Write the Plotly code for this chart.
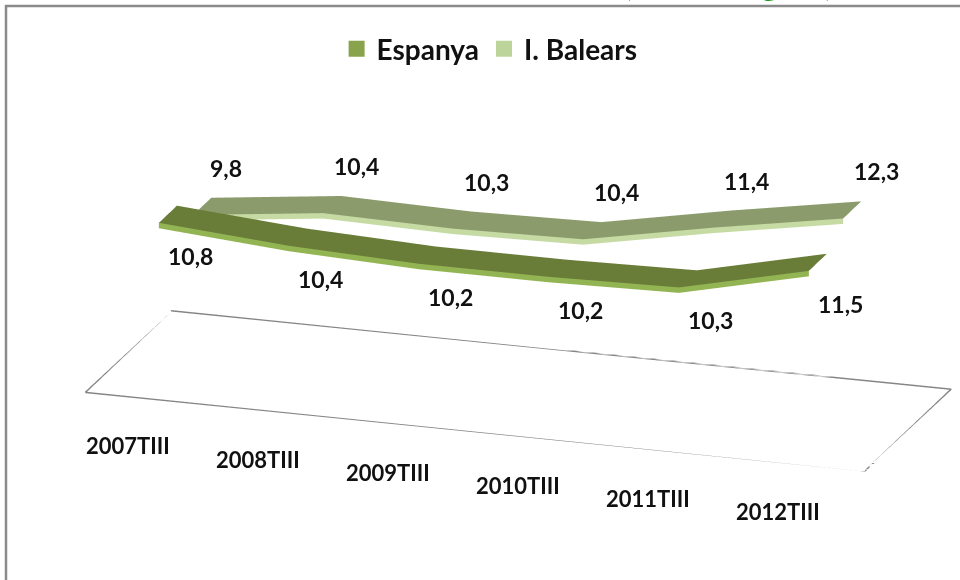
import numpy as np
import plotly.graph_objects as go

categories = ["2007TIII", "2008TIII", "2009TIII", "2010TIII", "2011TIII", "2012TIII"]
espanya = [10.8, 10.4, 10.2, 10.2, 10.3, 11.5]
balears = [9.8, 10.4, 10.3, 10.4, 11.4, 12.3]
series_names = ["Espanya", "I. Balears"]
value_labels_es = ["10,8", "10,4", "10,2", "10,2", "10,3", "11,5"]
value_labels_ib = ["9,8", "10,4", "10,3", "10,4", "11,4", "12,3"]

# floor extents (category and series depth) and value axis minimum
FX = [-0.5, 5.5]
FY = [0.0, 2.0]
ZR = [4.0, 13.0]
PAD = 0.05
XR = [FX[0] - PAD, FX[1] + PAD]
YR = [FY[0] - PAD, FY[1] + PAD]

top_colors = ["#6a7d38", "#8c9b6c"]
front_colors = ["#93b453", "#c5dba3"]
legend_colors = ["#88a34c", "#bcd49a"]
depths = [(0.20, 0.62), (1.00, 1.42)]
thick = 0.22

xs = list(range(len(categories)))
fig = go.Figure()

flat = dict(ambient=1.0, diffuse=0.0, specular=0.0, roughness=1.0, fresnel=0.0)
for k, vals in enumerate([espanya, balears]):
    y0, y1 = depths[k]
    z = np.array([vals, vals], dtype=float)
    c = top_colors[k]
    fig.add_trace(go.Surface(
        x=xs, y=[y0, y1], z=z,
        surfacecolor=np.zeros_like(z), colorscale=[[0, c], [1, c]], cmin=0, cmax=1,
        showscale=False, hoverinfo="skip", lighting=flat,
    ))
    fc = front_colors[k]
    fx = np.array([xs, xs], dtype=float)
    fy = np.full_like(fx, y0)
    fz = np.array([vals, [v - thick for v in vals]], dtype=float)
    fig.add_trace(go.Surface(
        x=fx, y=fy, z=fz,
        surfacecolor=np.zeros_like(fz), colorscale=[[0, fc], [1, fc]], cmin=0, cmax=1,
        showscale=False, hoverinfo="skip", lighting=flat,
    ))

# floor outline
fig.add_trace(go.Scatter3d(
    x=[FX[0], FX[1], FX[1], FX[0], FX[0]],
    y=[FY[0], FY[0], FY[1], FY[1], FY[0]],
    z=[ZR[0]] * 5,
    mode="lines", line=dict(color="#858585", width=3),
    hoverinfo="skip", showlegend=False,
))

# legend entries
for k, name in enumerate(series_names):
    fig.add_trace(go.Scatter3d(
        x=[None], y=[None], z=[None], mode="markers", name=name,
        marker=dict(symbol="square", size=22, color=legend_colors[k]),
        showlegend=True,
    ))

lab_font = dict(family="Lato", size=23, color="#111111", weight="bold")
cat_font = dict(family="Lato", size=22, color="#111111", weight="bold")
ann = []
for i, (v, t) in enumerate(zip(espanya, value_labels_es)):
    ann.append(dict(x=i, y=depths[0][0], z=v, text=t, showarrow=False,
                    xshift=32, yshift=-33, font=lab_font))
for i, (v, t) in enumerate(zip(balears, value_labels_ib)):
    ann.append(dict(x=i, y=depths[1][0], z=v, text=t, showarrow=False,
                    xshift=33, yshift=47, font=lab_font))
for i, t in enumerate(categories):
    ann.append(dict(x=i, y=FY[0], z=ZR[0], text=t, showarrow=False,
                    xshift=-22, yshift=-47, font=cat_font))

ax = dict(visible=False, showbackground=False, showgrid=False, zeroline=False,
          showspikes=False)
K = 1.414
eye_dir = np.array([0.294, -0.904, 0.309])
eye_dir = eye_dir / np.linalg.norm(eye_dir) * 3.0
cshift = np.array([-0.122, -0.051, -0.034])
eye = eye_dir + cshift

fig.update_layout(
    width=960, height=580,
    margin=dict(l=0, r=0, t=0, b=0),
    paper_bgcolor="white",
    showlegend=True,
    legend=dict(orientation="h", x=0.51, xanchor="center", y=1 - 49 / 580, yanchor="middle",
                font=dict(family="Lato", size=28, color="#111111", weight="bold"),
                itemsizing="trace", bgcolor="rgba(0,0,0,0)"),
    scene=dict(
        domain=dict(x=[0, 1], y=[0, 1]),
        xaxis=dict(range=XR, **ax),
        yaxis=dict(range=YR, **ax),
        zaxis=dict(range=ZR, **ax),
        aspectmode="manual",
        aspectratio=dict(x=K * 2.0 * (XR[1] - XR[0]) / 6.0,
                         y=K * 0.677 * (YR[1] - YR[0]) / 2.0,
                         z=K * 0.57),
        camera=dict(eye=dict(x=eye[0], y=eye[1], z=eye[2]),
                    center=dict(x=cshift[0], y=cshift[1], z=cshift[2]), up=dict(x=0, y=0, z=1),
                    projection=dict(type="orthographic")),
        annotations=ann,
    ),
    shapes=[dict(type="rect", xref="paper", yref="paper",
                 x0=6 / 960, x1=1.02, y0=-0.02, y1=1 - 6 / 580,
                 line=dict(color="#8a8a8a", width=2.5), fillcolor="rgba(0,0,0,0)")],
    annotations=[dict(text="(Percentatge %)", xref="paper", yref="paper",
                      x=622 / 960, xanchor="left", y=1 - 4 / 580, yanchor="bottom",
                      showarrow=False,
                      font=dict(family="Lato", size=30, color="#1e9a1e", weight="bold"))],
)

fig.write_html("out.html", config={"displayModeBar": False},
               post_script="document.body.style.margin='0';document.body.style.overflow='hidden';")
